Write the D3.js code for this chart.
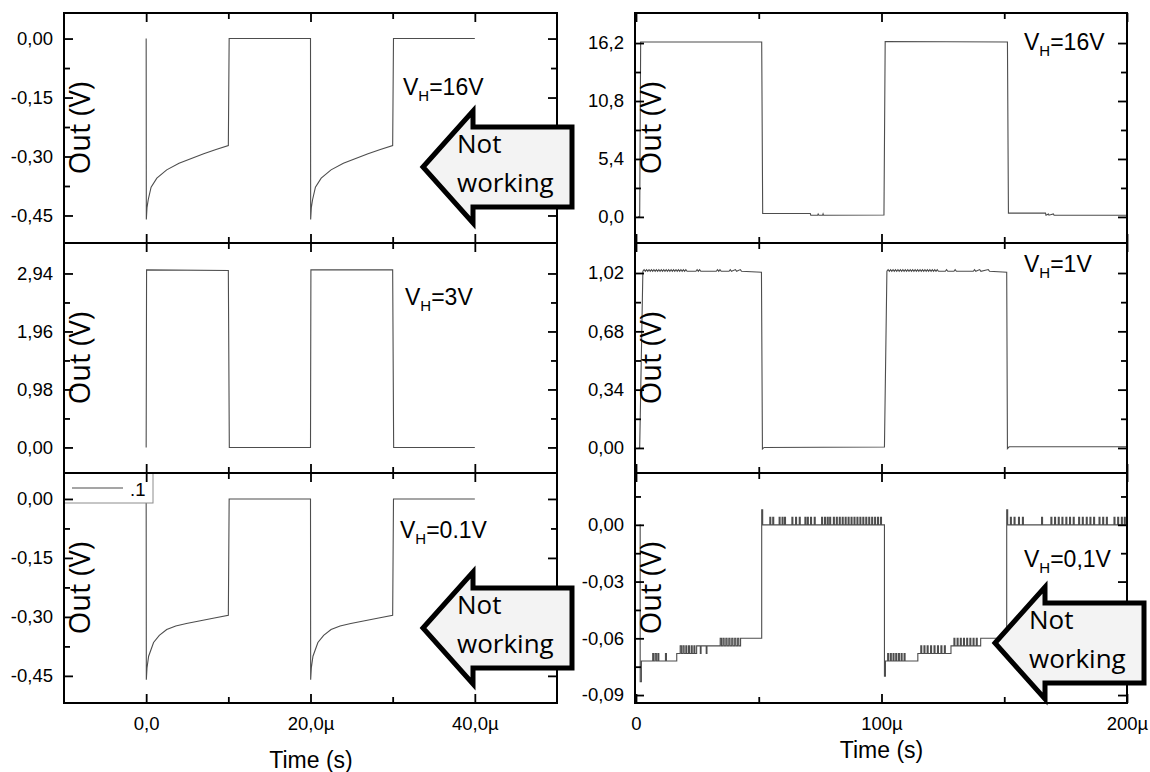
<!DOCTYPE html>
<html lang="en">
<head>
<meta charset="UTF-8">
<title>Out (V) vs time, six V_H cases</title>
<script src="https://d3js.org/d3.v7.min.js"></script>
<style>
  body { margin: 0; background: #fff; }
  svg { display: block; }
  .tick text { font-family: "Liberation Sans", Arial, sans-serif; font-size: 18.5px; fill: #000; }
  .tick line { stroke: #000; stroke-width: 1.8; }
  .frame { fill: none; stroke: #000; stroke-width: 2; }
  .trace { fill: none; stroke: #4d4d4d; stroke-width: 1.1; }
  .ylab { font-family: "Open Sans", sans-serif; font-size: 29px; }
  .vh { font-family: "Liberation Sans", Arial, sans-serif; font-size: 23px; }
  .xlab { font-family: "Liberation Sans", Arial, sans-serif; font-size: 23px; }
  .arrow { fill: #f3f3f3; stroke: #000; stroke-width: 5; stroke-linejoin: miter; }
  .arrow-text { font-family: "Open Sans", sans-serif; font-size: 26px; }
</style>
</head>
<body>
<svg width="1150" height="772"></svg>
<script>
// x axes (time in µs)
const leftXTicks = [0, 20, 40];
const leftXMinor = [10, 30];
const leftXLabels = ["0,0", "20,0µ", "40,0µ"];
const rightXTicks = [0, 100, 200];
const rightXMinor = [50, 150];
const rightXLabels = ["0", "100µ", "200µ"];

// y axes, one set per panel
const ltTicks = [0, -0.15, -0.30, -0.45];
const ltMinor = [-0.075, -0.225, -0.375];
const ltLabels = ["0,00", "-0,15", "-0,30", "-0,45"];
const lmTicks = [2.94, 1.96, 0.98, 0];
const lmMinor = [2.45, 1.47, 0.49];
const lmLabels = ["2,94", "1,96", "0,98", "0,00"];
const lbTicks = [0, -0.15, -0.30, -0.45];
const lbMinor = [-0.075, -0.225, -0.375];
const lbLabels = ["0,00", "-0,15", "-0,30", "-0,45"];
const rtTicks = [16.2, 10.8, 5.4, 0];
const rtMinor = [13.5, 8.1, 2.7];
const rtLabels = ["16,2", "10,8", "5,4", "0,0"];
const rmTicks = [1.02, 0.68, 0.34, 0];
const rmMinor = [0.85, 0.51, 0.17];
const rmLabels = ["1,02", "0,68", "0,34", "0,00"];
const rbTicks = [0, -0.03, -0.06, -0.09];
const rbMinor = [0.015, -0.015, -0.045, -0.075];
const rbLabels = ["0,00", "-0,03", "-0,06", "-0,09"];

// traces: [time µs, volts]
const ltTrace = [
  [0, 0], [0.02, -0.46], [0.1, -0.43], [0.25, -0.41], [0.6, -0.378], [1.3, -0.355], [2.5, -0.334],
  [4, -0.317], [5.5, -0.305], [7, -0.293], [8.5, -0.282], [10, -0.272], [10.1, 0], [20, 0],
  [20.02, -0.46], [20.1, -0.43], [20.25, -0.41], [20.6, -0.378], [21.3, -0.355], [22.5, -0.334],
  [24, -0.317], [25.5, -0.305], [27, -0.293], [28.5, -0.282], [30, -0.272], [30.1, 0], [40, 0]
];
const lmTrace = [
  [0, 0], [0.05, 3.0], [10, 2.99], [10.12, 0], [20, 0], [20.05, 3.0], [30, 3.0], [30.12, 0], [40, 0]
];
const lbTrace = [
  [0, 0], [0.02, -0.46], [0.1, -0.43], [0.3, -0.40], [0.9, -0.365], [1.6, -0.347], [2.5, -0.332],
  [3.6, -0.323], [4.9, -0.317], [6.6, -0.31], [8.3, -0.303], [10, -0.296], [10.1, 0], [20, 0],
  [20.02, -0.46], [20.1, -0.43], [20.3, -0.40], [20.9, -0.365], [21.6, -0.347], [22.5, -0.332],
  [23.6, -0.323], [24.9, -0.317], [26.6, -0.31], [28.3, -0.303], [30, -0.296], [30.1, 0], [40, 0]
];
const rtTrace = [
  [0.8, 0], [1.5, 0], [1.9, 16.3], [51.2, 16.3], [51.6, 0.32], [71, 0.32], [71.2, 0.16], [74, 0.16],
  [74.2, 0.28], [74.5, 0.16], [76, 0.16], [76.2, 0.28], [76.4, 0.16], [101, 0.18], [101.5, 16.35],
  [151.3, 16.3], [151.7, 0.35], [166.8, 0.35], [167, 0.16], [168, 0.28], [168.2, 0.16], [170, 0.28],
  [170.3, 0.16], [200, 0.16]
];
const rmTrace = [
  [1.0, 0], [1.5, 0], [2.8, 1.03],
  [3.3, 1.04], [3.8, 1.03], [4.3, 1.04], [4.8, 1.03], [5.3, 1.04], [5.8, 1.03], [6.3, 1.04], [6.8, 1.03],
  [7.3, 1.04], [7.8, 1.03], [8.3, 1.04], [8.8, 1.03], [9.3, 1.04], [9.8, 1.03], [10.3, 1.04], [10.8, 1.03],
  [11.3, 1.04], [11.8, 1.03], [12.3, 1.04], [12.8, 1.03], [13.3, 1.04], [13.8, 1.03], [14.3, 1.04],
  [14.8, 1.03], [15.3, 1.04], [15.8, 1.03], [16.3, 1.04], [16.8, 1.03], [17.3, 1.04], [17.8, 1.03],
  [18.3, 1.04], [18.8, 1.03], [19.3, 1.04], [19.8, 1.03], [20.3, 1.04], [20.8, 1.03],
  [24.4, 1.03], [24.9, 1.04], [25.4, 1.03], [25.9, 1.04], [26.4, 1.03],
  [32.7, 1.03], [33.2, 1.04], [33.7, 1.03], [34.2, 1.04], [34.7, 1.03],
  [37.9, 1.03], [38.4, 1.04], [38.9, 1.03], [40.5, 1.04], [41.0, 1.03], [42.5, 1.04], [43.0, 1.03],
  [51.1, 1.025], [51.5, -0.006], [52.2, 0.003], [101.2, 0.006], [102.2, 1.03],
  [102.7, 1.04], [103.2, 1.03], [103.7, 1.04], [104.2, 1.03], [104.7, 1.04], [105.2, 1.03], [105.7, 1.04],
  [106.2, 1.03], [106.7, 1.04], [107.2, 1.03], [107.7, 1.04], [108.2, 1.03], [108.7, 1.04], [109.2, 1.03],
  [109.7, 1.04], [110.2, 1.03], [110.7, 1.04], [111.2, 1.03], [111.7, 1.04], [112.2, 1.03], [112.7, 1.04],
  [113.2, 1.03], [113.7, 1.04], [114.2, 1.03], [114.7, 1.04], [115.2, 1.03], [115.7, 1.04], [116.2, 1.03],
  [116.7, 1.04], [117.2, 1.03], [117.7, 1.04], [118.2, 1.03], [118.7, 1.04], [119.2, 1.03], [119.7, 1.04],
  [120.2, 1.03], [120.7, 1.04], [121.2, 1.03], [121.7, 1.04], [122.2, 1.03], [122.7, 1.04], [123.2, 1.03],
  [126.0, 1.03], [126.5, 1.04], [127.0, 1.03], [129.5, 1.03], [130.0, 1.04], [130.5, 1.03],
  [137.4, 1.03], [137.9, 1.04], [138.4, 1.03], [140.0, 1.04], [140.5, 1.03], [143.5, 1.04], [144.0, 1.03],
  [151.0, 1.025], [151.3, -0.004], [152, 0.007], [200, 0.007]
];
// step trace: each value holds until the next point
const rbTrace = [
  [1.5, 0.0], [1.7, -0.083], [2.2, -0.072],
  [6.8, -0.068], [7.2, -0.072], [7.8, -0.068], [8.3, -0.072], [8.9, -0.068], [9.3, -0.072], [12.0, -0.068], [12.4, -0.072],
  [16.6, -0.068],
  [18.0, -0.064], [18.5, -0.068], [19.1, -0.064], [19.6, -0.068], [20.3, -0.064], [20.7, -0.068], [21.4, -0.064],
  [21.8, -0.068], [22.5, -0.064], [22.9, -0.068], [23.6, -0.064], [24.0, -0.068], [24.7, -0.064],
  [26.2, -0.068], [26.5, -0.064], [28.6, -0.068], [28.9, -0.064],
  [34.3, -0.060], [34.8, -0.064], [35.4, -0.060], [35.9, -0.064], [36.6, -0.060], [37.1, -0.064], [37.8, -0.060],
  [38.3, -0.064], [39.0, -0.060], [39.5, -0.064], [40.2, -0.060], [40.7, -0.064], [41.4, -0.060], [41.9, -0.064],
  [42.6, -0.060],
  [51.2, 0.008], [51.6, 0.0],
  [54.5, 0.004], [54.9, 0], [55.7, 0.004], [56.1, 0], [58.3, 0.004], [58.7, 0], [59.5, 0.004], [59.9, 0],
  [60.5, 0.004], [60.9, 0], [63.5, 0.004], [63.9, 0], [65.0, 0.004], [65.4, 0], [66.5, 0.004], [66.9, 0],
  [68.8, 0.004], [69.2, 0], [69.8, 0.004], [70.2, 0], [71.1, 0.004], [71.5, 0], [72.6, 0.004], [73.0, 0],
  [75.6, 0.004], [76.0, 0], [76.8, 0.004], [77.2, 0], [77.9, 0.004], [78.3, 0], [78.9, 0.004], [79.3, 0],
  [80.4, 0.004], [80.8, 0], [81.6, 0.004], [82.0, 0], [82.8, 0.004], [83.2, 0], [84.0, 0.004], [84.4, 0],
  [85.2, 0.004], [85.6, 0], [86.4, 0.004], [86.8, 0], [87.6, 0.004], [88.0, 0], [88.8, 0.004], [89.2, 0],
  [90.0, 0.004], [90.4, 0], [91.2, 0.004], [91.6, 0], [92.4, 0.004], [92.8, 0], [93.6, 0.004], [94.0, 0],
  [94.8, 0.004], [95.2, 0], [96.0, 0.004], [96.4, 0], [97.2, 0.004], [97.6, 0], [98.4, 0.004], [98.8, 0],
  [99.6, 0.004], [100.0, 0],
  [101.2, -0.080], [101.6, -0.072],
  [102.5, -0.068], [102.9, -0.072], [103.6, -0.068], [104.0, -0.072], [104.7, -0.068], [105.1, -0.072],
  [105.8, -0.068], [106.2, -0.072], [106.9, -0.068], [107.3, -0.072], [108.0, -0.068], [108.4, -0.072],
  [109.2, -0.068], [109.6, -0.072],
  [114.8, -0.068],
  [116.0, -0.064], [116.4, -0.068], [117.3, -0.064], [117.7, -0.068], [118.6, -0.064], [119.0, -0.068],
  [120.0, -0.064], [120.4, -0.068], [121.4, -0.064], [121.8, -0.068], [122.8, -0.064], [123.2, -0.068],
  [124.2, -0.064], [124.6, -0.068], [125.6, -0.064], [126.0, -0.068],
  [128.3, -0.064],
  [129.5, -0.060], [129.9, -0.064], [130.8, -0.060], [131.2, -0.064], [132.1, -0.060], [132.5, -0.064],
  [133.4, -0.060], [133.8, -0.064], [134.7, -0.060], [135.1, -0.064], [136.0, -0.060], [136.4, -0.064],
  [137.3, -0.060], [137.7, -0.064], [138.6, -0.060], [139.0, -0.064],
  [140.4, -0.060],
  [151.0, 0.008], [151.4, 0.0],
  [152.5, 0.004], [152.9, 0], [154.0, 0.004], [154.4, 0], [155.8, 0.004], [156.2, 0], [157.4, 0.004], [157.8, 0],
  [165.2, 0.004], [165.6, 0], [169.0, 0.004], [169.4, 0], [170.5, 0.004], [170.9, 0], [172.0, 0.004], [172.4, 0],
  [173.5, 0.004], [173.9, 0], [175.1, 0.004], [175.5, 0], [176.6, 0.004], [177.0, 0], [178.1, 0.004], [178.5, 0],
  [180.3, 0.004], [180.7, 0], [181.8, 0.004], [182.2, 0], [183.4, 0.004], [183.8, 0], [184.9, 0.004], [185.3, 0],
  [186.4, 0.004], [186.8, 0], [188.6, 0.004], [189.0, 0], [190.1, 0.004], [190.5, 0], [191.6, 0.004], [192.0, 0],
  [194.7, 0.004], [195.1, 0], [196.2, 0.004], [196.6, 0], [197.7, 0.004], [198.1, 0], [198.9, 0.004], [199.3, 0],
  [200, 0]
];

const svg = d3.select("svg");

const colX = [64, 635], colW = [493, 492];
const rowY = [13, 243, 473], rowH = 230;

const xScales = [
  d3.scaleLinear().domain([-10, 50]).range([0, colW[0]]),
  d3.scaleLinear().domain([0, 200]).range([1, colW[1]])
];
const xTicks = [leftXTicks, rightXTicks];
const xMinor = [leftXMinor, rightXMinor];
const xLabels = [leftXLabels, rightXLabels];

const panels = [
  {col: 0, row: 0, dom: [-0.52, 0.065], ticks: ltTicks, minor: ltMinor, labels: ltLabels, trace: ltTrace, step: false, vh: ["16V", 339, 82]},
  {col: 0, row: 1, dom: [-0.432, 3.455], ticks: lmTicks, minor: lmMinor, labels: lmLabels, trace: lmTrace, step: false, vh: ["3V", 341, 62]},
  {col: 0, row: 2, dom: [-0.519, 0.066], ticks: lbTicks, minor: lbMinor, labels: lbLabels, trace: lbTrace, step: false, vh: ["0.1V", 336, 65]},
  {col: 1, row: 0, dom: [-2.43, 19.0], ticks: rtTicks, minor: rtMinor, labels: rtLabels, trace: rtTrace, step: false, vh: ["16V", 389, 37]},
  {col: 1, row: 1, dom: [-0.146, 1.195], ticks: rmTicks, minor: rmMinor, labels: rmLabels, trace: rmTrace, step: false, vh: ["1V", 389, 29]},
  {col: 1, row: 2, dom: [-0.0942, 0.0274], ticks: rbTicks, minor: rbMinor, labels: rbLabels, trace: rbTrace, step: true, vh: ["0,1V", 389, 94]}
];

function noDomain(g) { g.select(".domain").remove(); }

panels.forEach(p => {
  const w = colW[p.col], h = rowH;
  const x = xScales[p.col];
  const y = d3.scaleLinear().domain(p.dom).range([h, 0]);
  const g = svg.append("g").attr("transform", `translate(${colX[p.col]},${rowY[p.row]})`);

  const line = d3.line()
    .x(d => x(d[0]))
    .y(d => y(d[1]))
    .curve(p.step ? d3.curveStepAfter : d3.curveLinear);

  g.append("path")
    .datum(p.trace)
    .attr("class", "trace")
    .attr("d", line);

  // legend only in the lower-left panel
  if (p.col === 0 && p.row === 2) {
    const lg = g.append("g");
    lg.append("rect").attr("width", 89).attr("height", 30)
      .attr("fill", "#fff").attr("stroke", "#8c8c8c").attr("stroke-width", 1);
    lg.append("line").attr("x1", 8).attr("x2", 59).attr("y1", 15).attr("y2", 15)
      .attr("stroke", "#4d4d4d").attr("stroke-width", 1.1);
    lg.append("text").attr("x", 66).attr("y", 23)
      .attr("font-family", "Liberation Sans, Arial, sans-serif").attr("font-size", 18.5)
      .text(".1");
  }

  // y ticks, inward on both sides
  g.append("g")
    .call(d3.axisLeft(y).tickValues(p.ticks).tickSize(-9).tickPadding(11)
      .tickFormat((d, i) => p.labels[i]))
    .call(noDomain);
  g.append("g")
    .call(d3.axisLeft(y).tickValues(p.minor).tickSize(-6).tickFormat(""))
    .call(noDomain);
  g.append("g").attr("transform", `translate(${w},0)`)
    .call(d3.axisRight(y).tickValues(p.ticks).tickSize(-9).tickFormat(""))
    .call(noDomain);
  g.append("g").attr("transform", `translate(${w},0)`)
    .call(d3.axisRight(y).tickValues(p.minor).tickSize(-6).tickFormat(""))
    .call(noDomain);

  // x ticks, inward on top and bottom
  g.append("g")
    .call(d3.axisTop(x).tickValues(xTicks[p.col]).tickSize(-9).tickFormat(""))
    .call(noDomain);
  g.append("g")
    .call(d3.axisTop(x).tickValues(xMinor[p.col]).tickSize(-6).tickFormat(""))
    .call(noDomain);
  g.append("g").attr("transform", `translate(0,${h})`)
    .call(d3.axisBottom(x).tickValues(xTicks[p.col]).tickSize(-9).tickPadding(14)
      .tickFormat((d, i) => p.row === 2 ? xLabels[p.col][i] : ""))
    .call(noDomain);
  g.append("g").attr("transform", `translate(0,${h})`)
    .call(d3.axisBottom(x).tickValues(xMinor[p.col]).tickSize(-6).tickFormat(""))
    .call(noDomain);

  g.append("rect").attr("class", "frame").attr("width", w).attr("height", h);

  // y title sits inside the frame
  g.append("text")
    .attr("class", "ylab")
    .attr("transform", `translate(26,${h / 2}) rotate(-90)`)
    .attr("text-anchor", "middle")
    .text("Out (V)");

  const vt = g.append("text").attr("class", "vh").attr("x", p.vh[1]).attr("y", p.vh[2]);
  vt.append("tspan").text("V");
  vt.append("tspan").attr("font-size", 15).attr("dy", 5.5).text("H");
  vt.append("tspan").attr("dy", -5.5).text("=" + p.vh[0]);
});

// x titles
svg.append("text").attr("class", "xlab").attr("x", 311).attr("y", 768)
  .attr("text-anchor", "middle").text("Time (s)");
svg.append("text").attr("class", "xlab").attr("x", 881.5).attr("y", 758)
  .attr("text-anchor", "middle").text("Time (s)");

// "Not working" arrows, given by their tip
const arrowTips = [[423, 167], [423, 628], [995, 643]];
const headLen = 50, headHalf = 56, bodyHalf = 40, bodyLen = 99;
arrowTips.forEach(([tx, ty]) => {
  const pts = [
    [tx, ty], [tx + headLen, ty - headHalf], [tx + headLen, ty - bodyHalf],
    [tx + headLen + bodyLen, ty - bodyHalf], [tx + headLen + bodyLen, ty + bodyHalf],
    [tx + headLen, ty + bodyHalf], [tx + headLen, ty + headHalf]
  ];
  svg.append("polygon").attr("class", "arrow").attr("points", pts.map(p => p.join(",")).join(" "));
  svg.append("text").attr("class", "arrow-text").attr("x", tx + 34).attr("y", ty - 14).text("Not");
  svg.append("text").attr("class", "arrow-text").attr("x", tx + 34).attr("y", ty + 25).text("working");
});
</script>
</body>
</html>
